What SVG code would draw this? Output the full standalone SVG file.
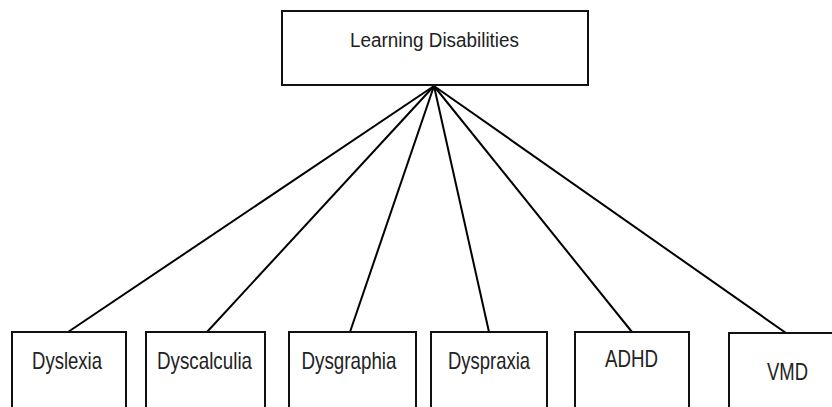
<svg xmlns="http://www.w3.org/2000/svg" width="832" height="407" viewBox="0 0 832 407">
<style>
.box{fill:#fff;stroke:#111;stroke-width:2}
.lbl{font-family:"Liberation Sans",Arial,sans-serif;fill:#222;text-anchor:middle}
.top{font-size:20px}
.bot{font-size:24px}
.conn{stroke:#000;stroke-width:2;fill:none}
</style>
<rect width="832" height="407" fill="#fff"/>
<g id="connectors">
<line class="conn" x1="434" y1="86" x2="68" y2="332"/>
<line class="conn" x1="434" y1="86" x2="207" y2="332"/>
<line class="conn" x1="434" y1="86" x2="350" y2="332"/>
<line class="conn" x1="434" y1="86" x2="489" y2="332"/>
<line class="conn" x1="434" y1="86" x2="632" y2="332"/>
<line class="conn" x1="434" y1="86" x2="786" y2="333"/>
</g>
<g id="learning-disabilities">
<rect class="box" x="282" y="11" width="306" height="74"/>
<text class="lbl top" x="434.5" y="47" textLength="169" lengthAdjust="spacingAndGlyphs">Learning Disabilities</text>
</g>
<g id="dyslexia">
<rect class="box" x="12" y="332" width="114" height="90"/>
<text class="lbl bot" x="67" y="369" textLength="70" lengthAdjust="spacingAndGlyphs">Dyslexia</text>
</g>
<g id="dyscalculia">
<rect class="box" x="146" y="332" width="119" height="90"/>
<text class="lbl bot" x="204.5" y="369" textLength="95" lengthAdjust="spacingAndGlyphs">Dyscalculia</text>
</g>
<g id="dysgraphia">
<rect class="box" x="289" y="332" width="127" height="90"/>
<text class="lbl bot" x="349" y="369" textLength="95" lengthAdjust="spacingAndGlyphs">Dysgraphia</text>
</g>
<g id="dyspraxia">
<rect class="box" x="431" y="332" width="116" height="90"/>
<text class="lbl bot" x="489" y="369" textLength="82" lengthAdjust="spacingAndGlyphs">Dyspraxia</text>
</g>
<g id="adhd">
<rect class="box" x="575" y="332" width="114" height="90"/>
<text class="lbl bot" x="631.5" y="367" textLength="53" lengthAdjust="spacingAndGlyphs">ADHD</text>
</g>
<g id="vmd">
<rect class="box" x="729" y="333" width="125" height="90"/>
<text class="lbl bot" x="787.5" y="380" textLength="41" lengthAdjust="spacingAndGlyphs">VMD</text>
</g>
</svg>
